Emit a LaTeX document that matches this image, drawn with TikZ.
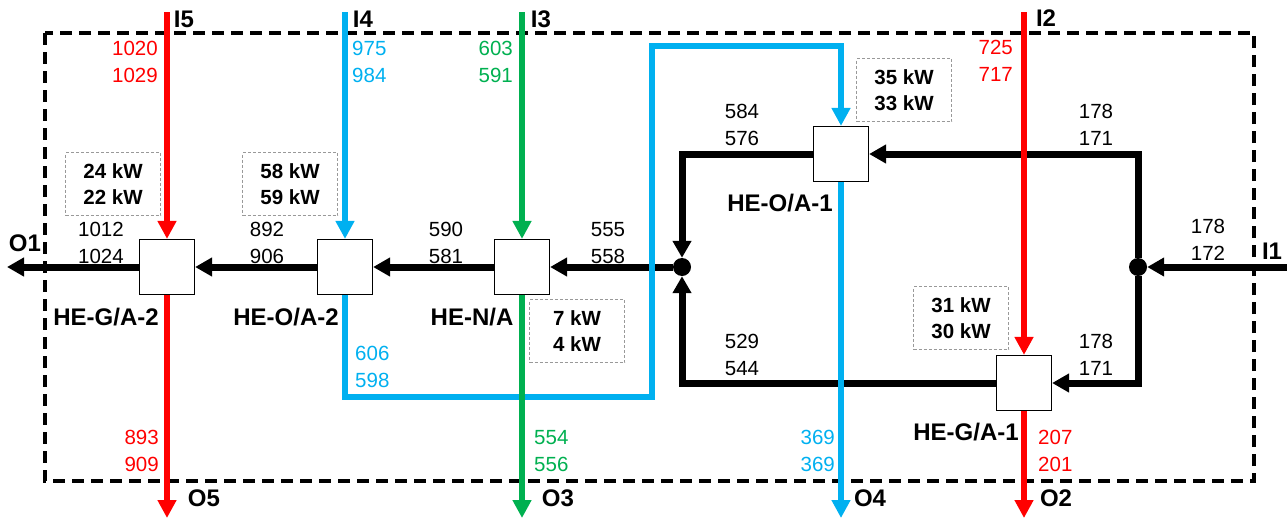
\documentclass[tikz,border=0pt]{standalone}
\usepackage{fontspec}
\setmainfont{Liberation Sans}
\usepackage{tikz}
\usetikzlibrary{arrows.meta, positioning}

\definecolor{hotred}{RGB}{255,0,0}
\definecolor{oilblue}{RGB}{0,176,240}
\definecolor{gasgreen}{RGB}{0,176,80}

\begin{document}
\begin{tikzpicture}[x=1pt, y=-1pt,
    hx/.style={draw, fill=white, line width=1.2pt, minimum size=55pt, inner sep=0pt},
    jn/.style={circle, fill=black, minimum size=18pt, inner sep=0pt},
    pwr/.style={draw=gray!80, dash pattern=on 3pt off 2pt, line width=0.8pt,
        minimum width=95pt, minimum height=63pt, inner sep=0pt, align=center,
        font=\fontsize{20.5}{26}\selectfont\bfseries},
    num/.style={inner sep=0pt, align=center, font=\fontsize{20.5}{27}\selectfont},
    lbl/.style={inner sep=0pt, font=\fontsize{24}{28}\selectfont\bfseries},
    blk/.style={line width=7pt, -{Triangle[length=17pt,width=18pt]}},
    redf/.style={hotred, line width=6.5pt, -{Triangle[length=18pt,width=18pt]}},
    bluef/.style={oilblue, line width=6pt, -{Triangle[length=18pt,width=18pt]}},
    greenf/.style={gasgreen, line width=5.5pt, -{Triangle[length=18pt,width=18pt]}}]
    \useasboundingbox (0,0) rectangle (1287,522);

    % system boundary
    \draw[line width=4pt, dash pattern=on 12pt off 7pt] (45,33) rectangle (1254,481);

    % heat exchangers
    \node[hx] (hega2) at (167,267) {};
    \node[hx] (heoa2) at (345,267) {};
    \node[hx] (hena)  at (522,267) {};
    \node[hx] (heoa1) at (841,154) {};
    \node[hx] (hega1) at (1024,383) {};
    \node[lbl] at (106,317) {HE-G/A-2};
    \node[lbl] at (286,317) {HE-O/A-2};
    \node[lbl] at (472,317) {HE-N/A};
    \node[lbl] at (780,203) {HE-O/A-1};
    \node[lbl] at (966,432) {HE-G/A-1};

    % junctions and ends
    \node[jn] (j1) at (1138,267) {};
    \node[jn] (j2) at (682,267) {};
    \coordinate (i1) at (1287,267);
    \coordinate (o1) at (7,267);
    \coordinate (i5) at (167,12);  \coordinate (o5) at (167,518);
    \coordinate (i4) at (345,12);
    \coordinate (i3) at (522,12);  \coordinate (o3) at (522,518);
    \coordinate (o4) at (841,518);
    \coordinate (i2) at (1024,12); \coordinate (o2) at (1024,518);
    \coordinate (lp1) at (652,397);
    \coordinate (lp2) at (652,46);

    % air (black)
    \draw[blk] (i1) -- (j1);
    \draw[blk] (j1) |- (heoa1);
    \draw[blk] (j1) |- (hega1);
    \draw[blk] (heoa1) -| (j2);
    \draw[blk] (hega1) -| (j2);
    \draw[blk] (j2) -- (hena);
    \draw[blk] (hena) -- (heoa2);
    \draw[blk] (heoa2) -- (hega2);
    \draw[blk] (hega2) -- (o1);

    % oil (blue)
    \draw[bluef] (i4) -- (heoa2);
    \draw[bluef] (heoa2) |- (lp1) -- (lp2) -| (heoa1);
    \draw[bluef] (heoa1) -- (o4);

    % nitrogen (green)
    \draw[greenf] (i3) -- (hena);
    \draw[greenf] (hena) -- (o3);

    % gas (red)
    \draw[redf] (i5) -- (hega2);
    \draw[redf] (hega2) -- (o5);
    \draw[redf] (i2) -- (hega1);
    \draw[redf] (hega1) -- (o2);

    % in / out labels
    \node[lbl] at (184,19) {I5};
    \node[lbl] at (363,19) {I4};
    \node[lbl] at (541,19) {I3};
    \node[lbl] at (1046,18) {I2};
    \node[lbl] at (1272,251) {I1};
    \node[lbl] at (25,243) {O1};
    \node[lbl] at (204,498) {O5};
    \node[lbl] at (558,498) {O3};
    \node[lbl] at (870,498) {O4};
    \node[lbl] at (1056,498) {O2};

    % heat duties
    \node[pwr] at (113,184) {24 kW\\22 kW};
    \node[pwr] at (290,184) {58 kW\\59 kW};
    \node[pwr] at (577,331) {7 kW\\4 kW};
    \node[pwr] at (904,90) {35 kW\\33 kW};
    \node[pwr] at (961,318) {31 kW\\30 kW};

    % temperatures
    \node[num, text=hotred, anchor=east, align=right] at (158,62) {1020\\1029};
    \node[num, text=oilblue, anchor=west, align=left] at (352,62) {975\\984};
    \node[num, text=gasgreen, anchor=east, align=right] at (513,62) {603\\591};
    \node[num, text=hotred, anchor=east, align=right] at (1013,61) {725\\717};
    \node[num] at (742,125) {584\\576};
    \node[num] at (1096,125) {178\\171};
    \node[num] at (1208,240) {178\\172};
    \node[num] at (101,243) {1012\\1024};
    \node[num] at (267,243) {892\\906};
    \node[num] at (446,243) {590\\581};
    \node[num] at (608,243) {555\\558};
    \node[num, text=oilblue, anchor=west, align=left] at (355,367) {606\\598};
    \node[num] at (742,355) {529\\544};
    \node[num] at (1096,355) {178\\171};
    \node[num, text=hotred, anchor=east, align=right] at (159,451) {893\\909};
    \node[num, text=gasgreen, anchor=west, align=left] at (534,451) {554\\556};
    \node[num, text=oilblue, anchor=east, align=right] at (835,451) {369\\369};
    \node[num, text=hotred, anchor=west, align=left] at (1038,451) {207\\201};
\end{tikzpicture}
\end{document}
